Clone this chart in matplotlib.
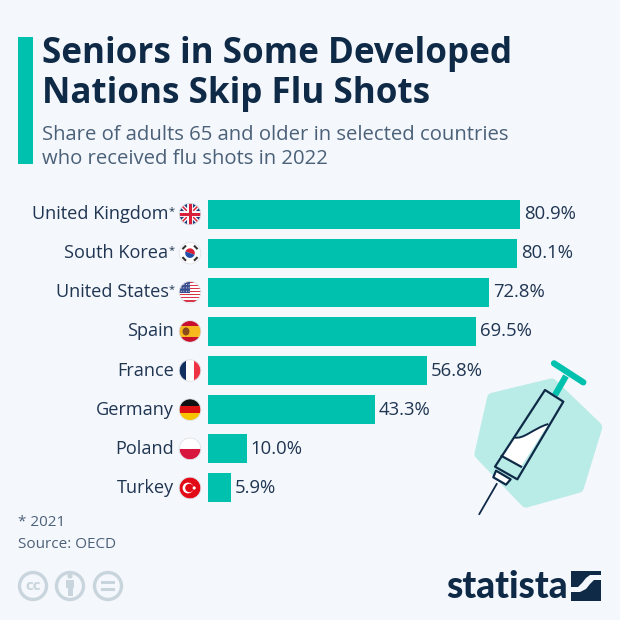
import numpy as np
import matplotlib
matplotlib.use("Agg")
import matplotlib.pyplot as plt
from matplotlib.patches import Rectangle, Circle, Polygon, PathPatch, Wedge, Ellipse
from matplotlib.path import Path

countries = ["United Kingdom", "South Korea", "United States", "Spain", "France", "Germany", "Poland", "Turkey"]
starred = [True, True, True, False, False, False, False, False]
values = [80.9, 80.1, 72.8, 69.5, 56.8, 43.3, 10.0, 5.9]
flags = ["uk", "kr", "us", "es", "fr", "de", "pl", "tr"]

BG = "#f4f7fb"; TEAL = "#00c1ae"; NAVY = "#0f2a47"; TXT = "#1f3552"; SUB = "#4b6179"; GREY = "#c9d5dc"
FONT = "Open Sans"

fig = plt.figure(figsize=(6.2, 6.2), dpi=100, facecolor=BG)
deco = fig.add_axes([0, 0, 1, 1], zorder=0)
deco.set_xlim(0, 620); deco.set_ylim(620, 0); deco.axis("off")

# header
deco.add_patch(Rectangle((18, 37), 15, 127, color=TEAL, lw=0))
deco.text(42, 54, "Seniors in Some Developed", fontsize=25.2, fontweight="bold", color=NAVY, family=FONT, va="center")
deco.text(42, 94, "Nations Skip Flu Shots", fontsize=25.2, fontweight="bold", color=NAVY, family=FONT, va="center")
deco.text(42, 134.5, "Share of adults 65 and older in selected countries", fontsize=14.55, color=SUB, family=FONT, va="center")
deco.text(42, 159.5, "who received flu shots in 2022", fontsize=14.55, color=SUB, family=FONT, va="center")

# bars
PX = 312 / 80.9
Y0, DY = 214.0, 39.14
top, bottom = 190.0, 510.0
ax = fig.add_axes([208 / 620, 1 - bottom / 620, 412 / 620, (bottom - top) / 620], zorder=1)
ax.patch.set_alpha(0)
ax.set_xlim(0, 412 / PX)
ax.set_ylim((bottom - Y0) / DY, (top - Y0) / DY)
ax.axis("off")
pos = np.arange(len(countries))
ax.barh(pos, values, height=29 / DY, color=TEAL, lw=0)
for p, v in zip(pos, values):
    ax.annotate(f"{v:.1f}%", (v, p), xytext=(2.8, 0), textcoords="offset points", fontsize=13.3,
                color=TXT, family=FONT, va="center", ha="left")

# labels
for i, (c, s) in enumerate(zip(countries, starred)):
    y = Y0 + i * DY
    if s:
        deco.text(174.5, y - 2.5, "*", fontsize=8, color=TXT, family=FONT, va="center", ha="right")
        deco.text(168.5, y, c, fontsize=13.1, color=TXT, family=FONT, va="center", ha="right")
    else:
        deco.text(174, y, c, fontsize=13.1, color=TXT, family=FONT, va="center", ha="right")

# flags
R = 10.8
def rect(x0, y0, w, h, col, clip, z=2):
    p = Rectangle((x0, y0), w, h, color=col, lw=0, zorder=z)
    deco.add_patch(p); p.set_clip_path(clip); return p
def line(xs, ys, col, lw, clip, z=2):
    l, = deco.plot(xs, ys, color=col, lw=lw, zorder=z, solid_capstyle="butt")
    l.set_clip_path(clip)

def flag(kind, cx, cy):
    base = Circle((cx, cy), R, color="white", lw=0, zorder=2)
    deco.add_patch(base)
    clip = base
    x, y = cx - R, cy - R; D = 2 * R
    if kind == "uk":
        rect(x, y, D, D, "#1f3a7a", clip)
        line([x, x + D], [y, y + D], "white", 3, clip, 3); line([x, x + D], [y + D, y], "white", 3, clip, 3)
        line([x, x + D], [y, y + D], "#d8203a", 1.1, clip, 3); line([x, x + D], [y + D, y], "#d8203a", 1.1, clip, 3)
        line([cx, cx], [y, y + D], "white", 4.2, clip, 3); line([x, x + D], [cy, cy], "white", 4.2, clip, 3)
        line([cx, cx], [y, y + D], "#d8203a", 2.2, clip, 3); line([x, x + D], [cy, cy], "#d8203a", 2.2, clip, 3)
    elif kind == "kr":
        deco.add_patch(Wedge((cx, cy), 4.8, 200, 380, color="#d8203a", lw=0, zorder=3))
        deco.add_patch(Wedge((cx, cy), 4.8, 20, 200, color="#1f4fa8", lw=0, zorder=3))
        for sx, sy in [(-1, -1), (1, -1), (-1, 1), (1, 1)]:
            mx, my = cx + sx * 5.8, cy + sy * 5.8
            deco.plot([mx + sy * 1.8, mx - sy * 1.8], [my - sx * 1.8, my + sx * 1.8],
                      color="#333333", lw=1.5, zorder=3, solid_capstyle="butt")
    elif kind == "us":
        rect(x, y, D, D, "white", clip)
        for k in range(0, 7):
            rect(x, y + k * D / 7 + 0.0, D, D / 14, "#d8344a", clip, 3)
        rect(x, y, D * 0.52, D * 0.52, "#3a4f8f", clip, 4)
        for a in np.linspace(x + 2, x + D * 0.5 - 1, 4):
            for b in np.linspace(y + 3, y + D * 0.5 - 1, 3):
                d = Circle((a, b), 0.5, color="white", lw=0, zorder=5); deco.add_patch(d); d.set_clip_path(clip)
    elif kind == "es":
        rect(x, y, D, D, "#c8102e", clip)
        rect(x, y + D * 0.25, D, D * 0.5, "#f6b81c", clip, 3)
        deco.add_patch(Ellipse((cx - 4, cy), 7, 8, color="#8a4b1a", lw=0, zorder=4))
    elif kind == "fr":
        rect(x, y, D / 3, D, "#12305f", clip)
        rect(x + D / 3, y, D / 3, D, "white", clip)
        rect(x + 2 * D / 3, y, D / 3, D, "#ee3344", clip)
    elif kind == "de":
        rect(x, y, D, D / 3, "#111111", clip)
        rect(x, y + D / 3, D, D / 3, "#dd1111", clip)
        rect(x, y + 2 * D / 3, D, D / 3, "#f7c400", clip)
    elif kind == "pl":
        rect(x, y + D / 2, D, D / 2, "#d8173f", clip)
    elif kind == "tr":
        rect(x, y, D, D, "#e30a17", clip)
        deco.add_patch(Circle((cx - 2, cy), 5.4, color="white", lw=0, zorder=3))
        deco.add_patch(Circle((cx - 0.6, cy), 4.2, color="#e30a17", lw=0, zorder=4))
        deco.add_patch(Circle((cx + 4.2, cy), 1.6, color="white", lw=0, zorder=5))
    deco.add_patch(Circle((cx, cy), R, fill=False, ec="#dfe3e8", lw=0.6, zorder=6))

for i, k in enumerate(flags):
    flag(k, 190, Y0 + i * DY)

# syringe illustration (coordinates from a 3x crop at 440,350)
def Z(pts):
    return [(440 + a / 3, 350 + b / 3) for a, b in pts]
HEX = "#b9ebe7"
deco.add_patch(Polygon(Z([(158, 145), (335, 102), (470, 232), (415, 412), (258, 456), (120, 312)]),
                       closed=True, fc=HEX, ec=HEX, lw=8, joinstyle="round", zorder=1))
xs, ys = zip(*Z([(345, 135), (378, 78)]))
deco.plot(xs, ys, color=TEAL, lw=4.5, zorder=2, solid_capstyle="butt")
xs, ys = zip(*Z([(342, 40), (430, 97)]))
deco.plot(xs, ys, color=TEAL, lw=4.5, zorder=2, solid_capstyle="round")
liq = [(222, 262), (250, 270), (280, 235), (325, 222), (243, 350), (185, 318)]
codes = [Path.MOVETO, Path.CURVE4, Path.CURVE4, Path.CURVE4, Path.LINETO, Path.LINETO]
deco.add_patch(PathPatch(Path(Z(liq), codes), fc="white", ec="none", zorder=3))
deco.add_patch(PathPatch(Path(Z(liq[:4]), codes[:4]), fc="none", ec=NAVY, lw=1.4, zorder=4))
deco.add_patch(Polygon(Z([(315, 120), (370, 155), (232, 388), (165, 350)]), closed=True, fc="none",
                       ec=NAVY, lw=1.6, joinstyle="round", zorder=5))
xs, ys = zip(*Z([(185, 318), (243, 350)]))
deco.plot(xs, ys, color=NAVY, lw=1.6, zorder=5)
deco.add_patch(Polygon(Z([(168, 362), (212, 388), (198, 404), (160, 382)]), closed=True, fc="#ffffff",
                       ec=NAVY, lw=1.6, joinstyle="round", zorder=4))
xs, ys = zip(*Z([(170, 402), (118, 492)]))
deco.plot(xs, ys, color=NAVY, lw=1.3, zorder=4)

# footer
deco.text(18, 522, "* 2021", fontsize=11, color=SUB, family=FONT, va="center")
deco.text(18, 544, "Source: OECD", fontsize=11, color=SUB, family=FONT, va="center")
for cx in (33, 70, 108):
    deco.add_patch(Circle((cx, 586), 13.5, fc="none", ec=GREY, lw=2.4))
deco.text(33, 585.5, "cc", fontsize=11, fontweight="bold", color=GREY, family=FONT, ha="center", va="center")
deco.add_patch(Circle((70, 576), 2.6, color=GREY, lw=0))
deco.add_patch(Rectangle((66, 580), 8, 8, color=GREY, lw=0))
deco.add_patch(Rectangle((67.5, 588), 5, 8, color=GREY, lw=0))
deco.add_patch(Rectangle((101, 581), 14, 2.6, color=GREY, lw=0))
deco.add_patch(Rectangle((101, 588), 14, 2.6, color=GREY, lw=0))

deco.text(446.5, 587, "statista", fontsize=26.5, fontweight="black", color=NAVY,
          family="Lato", va="center", ha="left")
deco.add_patch(Rectangle((571, 571), 30, 30, color=NAVY, lw=0))
band = [(571, 587), (578, 587), (582, 583), (586, 578), (590, 575), (601, 575),
        (601, 580), (594, 580), (590, 584), (586, 589), (580, 592), (571, 592)]
deco.add_patch(Polygon(band, closed=True, fc=BG, ec="none"))

fig.savefig("out.png", dpi=100, facecolor=BG)
